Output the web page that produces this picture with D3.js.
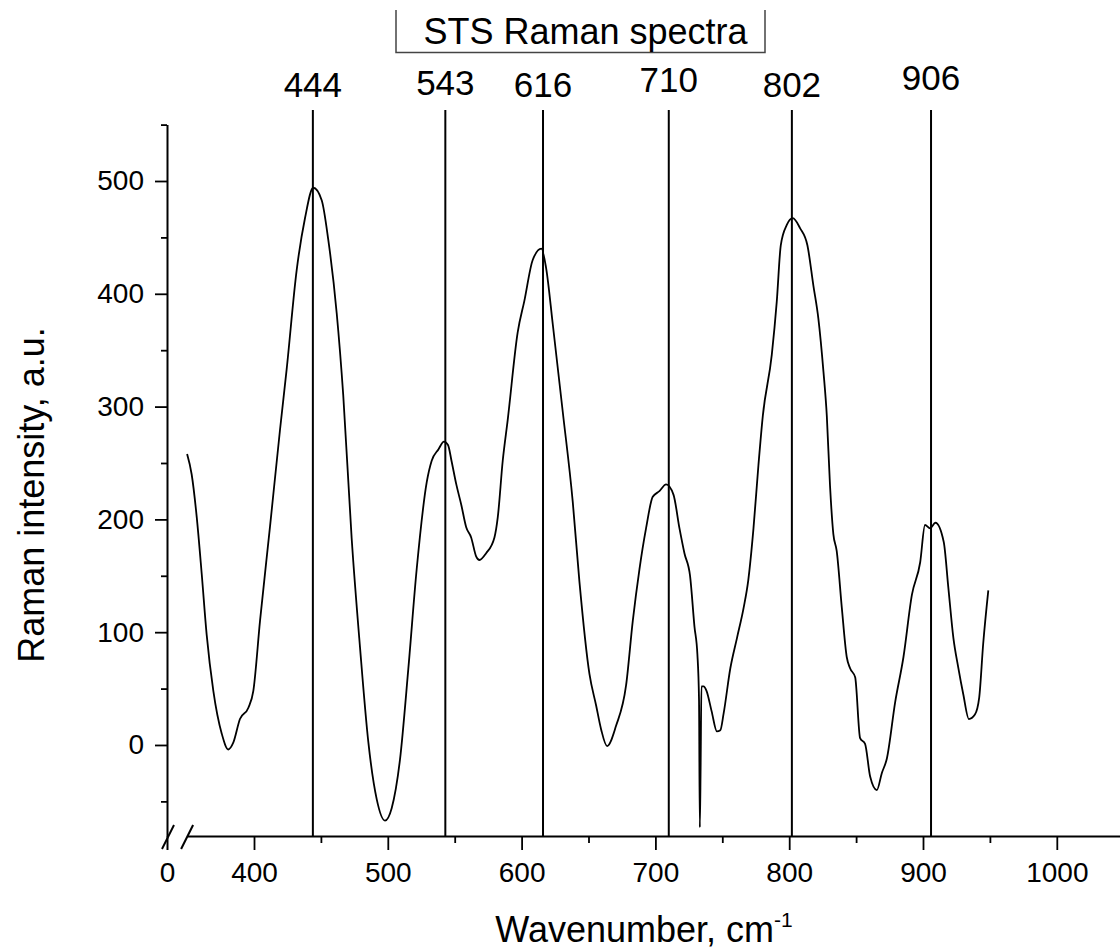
<!DOCTYPE html>
<html>
<head>
<meta charset="utf-8">
<script src="https://cdn.jsdelivr.net/npm/d3@7"></script>
<style>
  html, body { margin: 0; padding: 0; background: #fff; }
  svg { display: block; }
  text { font-family: "Liberation Sans", Arial, sans-serif; fill: #000; }
</style>
</head>
<body>
<svg id="chart" width="1120" height="949"></svg>
<script>
// ---- data ----
const wavenumber = [350,353.4,357.2,360.9,364.6,369.6,375.9,380.8,384.5,389.5,395.8,399.5,404.5,412,419.4,424.4,431.9,438.1,444.3,450.6,455.5,461.8,466.7,473,479.2,485.5,491.7,497.9,502.9,509.1,515.3,521.6,529.1,532.8,537.8,542,545,547.6,551.2,554.9,558.6,562.3,566.1,568.5,573.5,579.7,582.2,585.9,589.6,597.1,602.1,608.3,614.8,618.3,623.3,630.8,638.2,643.2,650.7,655.7,659.4,663.9,670.6,678.1,683.1,688.1,693,698,703,708,713.5,718,721.7,725.9,729.2,731.4,732.6,733.2,733.8,734.4,736,738.2,742,746,748.5,751,756,761,766,769.4,773.3,777,780.3,787,790.7,793.7,798.2,802.7,808.2,813.6,818.1,821.8,825.6,828.1,830.5,833,835.5,839.3,843,845.5,849.3,853,856.7,860.5,865.5,869.2,873,879.2,885.4,891.7,897.9,901.5,905.3,909.3,915.5,918.9,922.7,926.3,930.1,934.3,938.8,942,945,948.8];
const intensity = [258,240,202,152,98,48,10,-4,2,23,33,48,110,194,279,333,421,467,494,483,448,383,310,183,87,2,-48,-67,-56,-13,67,156,233,252,262,269,266,252,231,213,193,184,167,164,170,184,202,252,288,366,394,430,440,423,373,295,216,145,63,35,14,-1,17,53,110,156,192,220,225,231,222,192,170,150,105,80,40,-73,-20,52,52,48,30,12,13,28,68,95,122,146,192,248,292,346,393,443,461,467,458,443,407,378,331,292,230,187,172,122,78,68,60,6,1,-28,-40,-25,-12,38,78,133,162,195,192,197,180,140,95,69,45,23,27,42,90,137];

const peakPositions = [444, 543, 616, 710, 802, 906];
const peakLabels = ["444", "543", "616", "710", "802", "906"];

const xMajorTicks = [400, 500, 600, 700, 800, 900, 1000];
const xMinorTicks = [450, 550, 650, 750, 850, 950, 1050];
const yMajorTicks = [0, 100, 200, 300, 400, 500];
const yMinorTicks = [-50, 50, 150, 250, 350, 450, 550];
const xBreakTicks = [0];

const titleText = "STS Raman spectra";
const xTitle = "Wavenumber, cm";
const xTitleSup = "-1";
const yTitle = "Raman intensity, a.u.";

// ---- layout ----
const svg = d3.select("#chart");
const axisY = 836;
const yAxisX = 167;
const peakLabelDy = [0, -2, 0, -5, 0, -7];

const x = d3.scaleLinear().domain([350, 1050]).range([187.1, 1123.7]);
const xBreak = d3.scaleLinear().domain([0, 10]).range([yAxisX, yAxisX + 2]);
const y = d3.scaleLinear().domain([-80.7, 550]).range([axisY, 124.6]);

svg.append("rect").attr("width", 1120).attr("height", 949).attr("fill", "#fff");

const tickFont = "28px";

// Y axis minor
svg.append("g")
  .attr("transform", `translate(${yAxisX},0)`)
  .call(d3.axisLeft(y).tickValues(yMinorTicks).tickSize(6).tickFormat(""))
  .call(g => g.select(".domain").remove())
  .call(g => g.selectAll("line").attr("stroke", "#000").attr("stroke-width", 1.8));

// Y axis major
svg.append("g")
  .attr("transform", `translate(${yAxisX},0)`)
  .call(d3.axisLeft(y).tickValues(yMajorTicks).tickSize(12).tickSizeOuter(0).tickPadding(11).tickFormat(d3.format("d")))
  .call(g => g.select(".domain").attr("stroke", "#000").attr("stroke-width", 2))
  .call(g => g.selectAll("line").attr("stroke", "#000").attr("stroke-width", 1.8))
  .call(g => g.selectAll("text").style("font-size", tickFont).style("font-family", '"Liberation Sans", Arial, sans-serif').attr("fill", "#000"));

// X axis minor
svg.append("g")
  .attr("transform", `translate(0,${axisY})`)
  .call(d3.axisBottom(x).tickValues(xMinorTicks).tickSize(7).tickFormat(""))
  .call(g => g.select(".domain").remove())
  .call(g => g.selectAll("line").attr("stroke", "#000").attr("stroke-width", 1.8));

// X axis major
svg.append("g")
  .attr("transform", `translate(0,${axisY})`)
  .call(d3.axisBottom(x).tickValues(xMajorTicks).tickSize(14).tickSizeOuter(0).tickPadding(12).tickFormat(d3.format("d")))
  .call(g => g.select(".domain").attr("stroke", "#000").attr("stroke-width", 2))
  .call(g => g.selectAll("line").attr("stroke", "#000").attr("stroke-width", 1.8))
  .call(g => g.selectAll("text").style("font-size", tickFont).style("font-family", '"Liberation Sans", Arial, sans-serif').attr("fill", "#000"));

// X axis break segment (0)
svg.append("g")
  .attr("transform", `translate(0,${axisY})`)
  .call(d3.axisBottom(xBreak).tickValues(xBreakTicks).tickSize(14).tickSizeOuter(0).tickPadding(12).tickFormat(d3.format("d")))
  .call(g => g.select(".domain").remove())
  .call(g => g.selectAll("line").attr("stroke", "#000").attr("stroke-width", 2))
  .call(g => g.selectAll("text").style("font-size", tickFont).style("font-family", '"Liberation Sans", Arial, sans-serif').attr("fill", "#000"));

// break marks
[xBreak(0) + 1, x(350)].forEach(cx => {
  svg.append("line")
    .attr("x1", cx - 6).attr("y1", axisY + 13)
    .attr("x2", cx + 6).attr("y2", axisY - 11)
    .attr("stroke", "#000").attr("stroke-width", 2);
});

// peak lines
svg.append("g").selectAll("line")
  .data(peakPositions)
  .join("line")
  .attr("x1", d => x(d)).attr("x2", d => x(d))
  .attr("y1", 110).attr("y2", axisY)
  .attr("stroke", "#000").attr("stroke-width", 2);

svg.append("g").selectAll("text")
  .data(peakPositions)
  .join("text")
  .attr("x", d => x(d))
  .attr("y", (d, i) => 97 + peakLabelDy[i])
  .attr("text-anchor", "middle")
  .style("font-size", "35px")
  .text((d, i) => peakLabels[i]);

// spectrum
const pts = wavenumber.map((w, i) => [w, intensity[i]]);
svg.append("path")
  .datum(pts)
  .attr("fill", "none")
  .attr("stroke", "#000")
  .attr("stroke-width", 1.8)
  .attr("stroke-linejoin", "round")
  .attr("d", d3.line().x(d => x(d[0])).y(d => y(d[1])).curve(d3.curveMonotoneX));

// title box
svg.append("path")
  .attr("d", "M396,10 L396,52.5 L765,52.5 L765,10")
  .attr("fill", "none")
  .attr("stroke", "#444")
  .attr("stroke-width", 1.5);
svg.append("text")
  .attr("x", 585.5).attr("y", 44)
  .attr("text-anchor", "middle")
  .style("font-size", "36px")
  .text(titleText);

// axis titles
const xt = svg.append("text")
  .attr("x", 644).attr("y", 942)
  .attr("text-anchor", "middle")
  .style("font-size", "36px");
xt.append("tspan").text(xTitle);
xt.append("tspan").attr("dy", -15).style("font-size", "21px").text(xTitleSup);

svg.append("text")
  .attr("transform", "translate(44,495) rotate(-90)")
  .attr("text-anchor", "middle")
  .style("font-size", "36px")
  .text(yTitle);
</script>
</body>
</html>
